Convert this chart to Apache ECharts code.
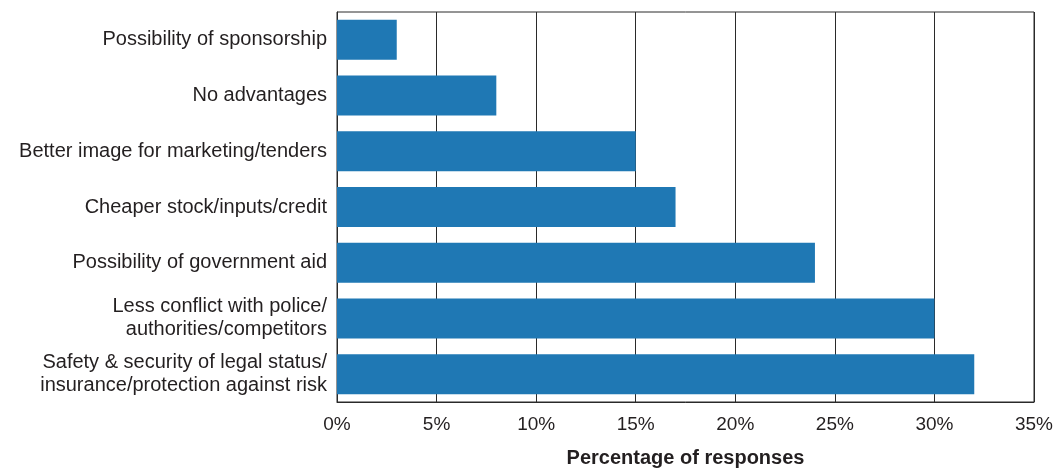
<!DOCTYPE html>
<html><head><meta charset="utf-8">
<script src="https://cdn.jsdelivr.net/npm/echarts@6/dist/echarts.min.js"></script>
<style>html,body{margin:0;padding:0;background:#fff}#c{width:1056px;height:470px}</style>
</head><body><div id="c"></div>
<script>
const categories = [
  "Possibility of sponsorship",
  "No advantages",
  "Better image for marketing/tenders",
  "Cheaper stock/inputs/credit",
  "Possibility of government aid",
  "Less conflict with police/\nauthorities/competitors",
  "Safety & security of legal status/\ninsurance/protection against risk"
];
const values = [3, 8, 15, 17, 24, 30, 32];
const xTicks = [0, 5, 10, 15, 20, 25, 30, 35];
const axisTitle = "Percentage of responses";

const font = "Liberation Sans";
const chart = echarts.init(document.getElementById('c'), null, {renderer: 'canvas'});
chart.setOption({
  animation: false,
  grid: {left: 337, right: 22, top: 12, bottom: 68, outerBoundsMode: 'none', containLabel: false, show: true, borderColor: '#2a2a2a', borderWidth: 1, backgroundColor: 'transparent'},
  xAxis: {
    type: 'value', min: xTicks[0], max: xTicks[xTicks.length-1], interval: 5,
    axisLine: {show: true, lineStyle: {color: '#2a2a2a', width: 1}},
    axisTick: {show: false},
    splitLine: {show: true, lineStyle: {color: '#2a2a2a', width: 1}},
    axisLabel: {formatter: v => v + '%', color: '#231f20', fontFamily: font, fontSize: 19, margin: 13},
    name: axisTitle, nameLocation: 'middle', nameGap: 46,
    nameTextStyle: {color: '#231f20', fontFamily: font, fontSize: 20, fontWeight: 'bold'}
  },
  yAxis: {
    type: 'category', data: categories, inverse: true,
    axisLine: {show: true, lineStyle: {color: '#2a2a2a', width: 1}},
    axisTick: {show: false},
    axisLabel: {color: '#231f20', fontFamily: font, fontSize: 20, margin: 10, lineHeight: 23, align: 'right'}
  },
  series: [{
    type: 'bar', data: values, barWidth: 40,
    itemStyle: {color: '#1f78b4'}
  }]
});
</script></body></html>
